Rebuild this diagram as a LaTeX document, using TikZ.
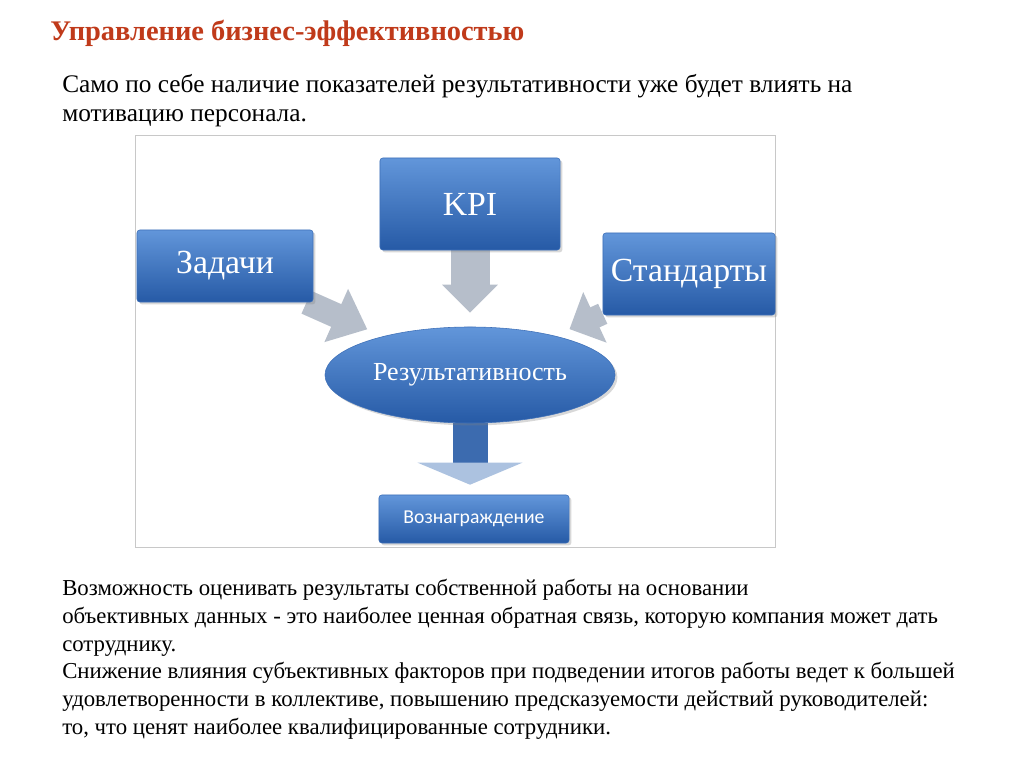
\documentclass[tikz,border=0pt]{standalone}
\usepackage{fontspec}
\setmainfont{Liberation Serif}
\newfontfamily\calibrifont{Carlito}
\usetikzlibrary{arrows.meta,shapes.geometric,shadows}
\definecolor{titlered}{RGB}{192,58,26}
\definecolor{boxtop}{RGB}{98,150,218}
\definecolor{boxbottom}{RGB}{38,90,166}
\definecolor{boxline}{RGB}{62,112,184}
\definecolor{arrowgrey}{RGB}{182,190,202}
\definecolor{headpale}{RGB}{172,194,224}
\definecolor{framegrey}{RGB}{200,200,200}
\tikzset{
    every node/.style={inner sep=0pt}
}
\tikzset{
    block/.style={rectangle, rounded corners=2pt, top color=boxtop,
    	bottom color=boxbottom, draw=boxline, text=white,
    	drop shadow={shadow xshift=0.06cm, shadow yshift=-0.06cm, opacity=0.3},
    	font=\fontsize{24}{28}\selectfont},
    result/.style={ellipse, minimum width=7.25cm, minimum height=2.4cm,
    	top color=boxtop, bottom color=boxbottom, draw=boxline, text=white,
    	drop shadow={shadow xshift=0.06cm, shadow yshift=-0.06cm, opacity=0.3},
    	font=\fontsize{18.5}{22}\selectfont},
    txtline/.style={anchor=base west, font=\fontsize{16.2}{20}\selectfont}
}
\tikzset{
    flow/.style={draw=arrowgrey, line width=#1}
}
\pgfdeclarelayer{background}
\pgfsetlayers{background,main}
\begin{document}
\begin{tikzpicture}[x=0.025cm, y=-0.025cm]
	\useasboundingbox (0,0) rectangle (1024,767);

	\node (title) [anchor=base west, text=titlered, font=\fontsize{20.2}{24}\selectfont\bfseries] at (50, 41) {Управление бизнес-эффективностью};
	\node (top1) [txtline, font=\fontsize{18}{22}\selectfont] at (62, 93) {Само по себе наличие показателей результативности уже будет влиять на};
	\node (top2) [txtline, font=\fontsize{18}{22}\selectfont] at (62, 122) {мотивацию персонала.};

	\node (kpi) [block, minimum width=4.5cm, minimum height=2.3cm] at (470, 204) {KPI};
	\node (task) [block, minimum width=4.4cm, minimum height=1.8cm] at (225, 266) {Задачи};
	\node (std) [block, minimum width=4.3cm, minimum height=2.05cm] at (689, 274) {Стандарты};
	\node (res) [result] at (470, 375) {Результативность};
	\node (reward) [block, minimum width=4.75cm, minimum height=1.2cm, font=\fontsize{14}{16}\calibrifont] at (474, 519) {Вознаграждение};

	\node (bot1) [txtline] at (62, 595) {Возможность оценивать результаты собственной работы на основании};
	\node (bot2) [txtline] at (62, 623) {объективных данных - это наиболее ценная обратная связь, которую компания может дать};
	\node (bot3) [txtline] at (62, 651) {сотруднику.};
	\node (bot4) [txtline] at (62, 678) {Снижение влияния субъективных факторов при подведении итогов работы ведет к большей};
	\node (bot5) [txtline] at (62, 706) {удовлетворенности в коллективе, повышению предсказуемости действий руководителей:};
	\node (bot6) [txtline] at (62, 734) {то, что ценят наиболее квалифицированные сотрудники.};

	\begin{pgfonlayer}{background}
		\fill [white] (0,0) rectangle (1024,767);
		\draw [framegrey, line width=0.6pt] (135, 135) rectangle (775, 547);
		\draw [flow=0.975cm, -{Triangle[length=0.7cm, width=1.35cm, color=arrowgrey]}, shorten >=0.35cm] (kpi.south) -- (res.north);
		\draw [flow=0.62cm, -{Triangle[length=0.85cm, width=1.4cm, color=arrowgrey]}, shorten >=0.43cm] (task) -- (res);
		\draw [flow=0.55cm, -{Triangle[length=0.7cm, width=1.35cm, color=arrowgrey]}, shorten >=0.4cm] (std) -- (res);
		\draw [flow=0.875cm, draw=boxbottom!90!white, -{Triangle[length=0.55cm, width=2.6cm, color=headpale]}, shorten >=0.25cm] (res.south) -- (res.south |- reward.north);
	\end{pgfonlayer}
\end{tikzpicture}
\end{document}
